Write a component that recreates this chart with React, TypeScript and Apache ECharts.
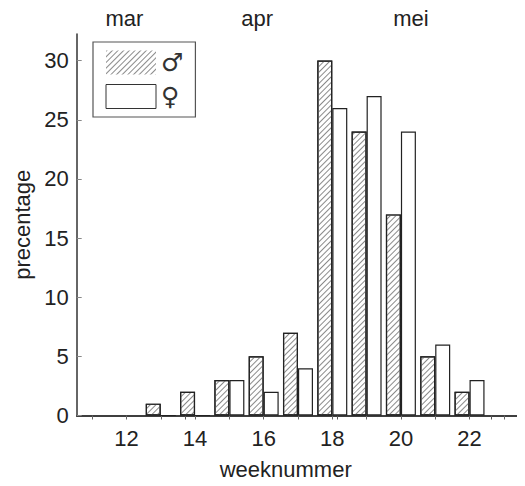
import React, { useEffect, useRef } from "react";
import * as echarts from "echarts";

const weeks = [13, 14, 15, 16, 17, 18, 19, 20, 21, 22];
const maleValues = [1, 2, 3, 5, 7, 30, 24, 17, 5, 2];
const femaleValues = [0, 0, 3, 2, 4, 26, 27, 24, 6, 3];
const xLabelWeeks = [12, 14, 16, 18, 20, 22];
const xTickWeeks = [11, 12, 13, 14, 15, 16, 17, 18, 19, 20, 21, 22, 23];
const yTicks = [0, 5, 10, 15, 20, 25, 30];
const monthNames = ["mar", "apr", "mei"];
const monthLabelPos = [11.94, 15.81, 20.29];
const monthBoundaries = [13.7, 18.15, 22.63];
const seriesNames = ["\u2642", "\u2640"];

const FONT = "'Liberation Sans', Arial, sans-serif";
const FS = 22;
const X_MIN = 10.55;
const X_MAX = 23.55;
const Y_MAX = 32.25;

export default function App() {
  const ref = useRef<HTMLDivElement>(null);
  useEffect(() => {
    if (!ref.current) return;
    const chart = echarts.init(ref.current, null, { renderer: "svg" });
    const axisLine = { show: true, lineStyle: { color: "#333", width: 1.5 } };
    const hatch = {
      symbol: "rect",
      symbolSize: 1,
      dashArrayX: [1, 0],
      dashArrayY: [1, 2.2],
      rotation: -Math.PI / 4,
      color: "#8a8a8a",
    };
    chart.setOption({
      animation: false,
      backgroundColor: "#fff",
      textStyle: { fontFamily: FONT },
      grid: { left: 76.7, right: 2.3, top: 34, bottom: 70.5 },
      legend: {
        left: 93,
        top: 42,
        orient: "vertical",
        padding: [8, 12, 8, 12.5],
        itemWidth: 50,
        itemHeight: 24,
        itemGap: 9,
        borderColor: "#555",
        borderWidth: 1.2,
        icon: "rect",
        textStyle: { fontSize: 25, color: "#333", fontFamily: "'DejaVu Sans'" },
        data: [
          { name: seriesNames[0], itemStyle: { borderWidth: 0 } },
          { name: seriesNames[1], itemStyle: { borderWidth: 1, borderColor: "#333" } },
        ],
      },
      xAxis: [
        {
          type: "value",
          position: "bottom",
          min: X_MIN,
          max: X_MAX,
          name: "weeknummer",
          nameLocation: "middle",
          nameGap: 43,
          nameTextStyle: { fontSize: FS, color: "#222", fontFamily: FONT, padding: [0, 28, 0, 0] },
          axisLine,
          splitLine: { show: false },
          axisTick: {
            show: true,
            inside: false,
            length: 4,
            customValues: xTickWeeks,
            lineStyle: { color: "#666" },
          },
          axisLabel: {
            customValues: xLabelWeeks,
            fontSize: FS,
            color: "#222",
            margin: 11.5,
            fontFamily: FONT,
          },
        },
        {
          type: "value",
          position: "top",
          min: X_MIN,
          max: X_MAX,
          axisLine,
          splitLine: { show: false },
          axisTick: {
            show: true,
            inside: true,
            length: 4,
            customValues: monthBoundaries,
            lineStyle: { color: "#555" },
          },
          axisLabel: {
            customValues: monthLabelPos,
            fontSize: FS,
            color: "#222",
            margin: 5,
            fontFamily: FONT,
            formatter: (v: number) => {
              const i = monthLabelPos.findIndex((p) => Math.abs(p - v) < 0.01);
              return i >= 0 ? monthNames[i] : "";
            },
          },
        },
      ],
      yAxis: [
        {
          type: "value",
          position: "left",
          min: 0,
          max: Y_MAX,
          name: "precentage",
          nameLocation: "middle",
          nameGap: 43,
          nameTextStyle: { fontSize: FS, color: "#222", fontFamily: FONT },
          axisLine,
          splitLine: { show: false },
          axisTick: {
            show: true,
            inside: true,
            length: 5,
            customValues: yTicks,
            lineStyle: { color: "#888" },
          },
          axisLabel: {
            customValues: yTicks,
            fontSize: FS,
            color: "#222",
            margin: 8,
            fontFamily: FONT,
          },
        },
        {
          type: "value",
          position: "right",
          min: 0,
          max: Y_MAX,
          axisLine,
          splitLine: { show: false },
          axisTick: {
            show: true,
            inside: true,
            length: 5,
            customValues: yTicks,
            lineStyle: { color: "#888" },
          },
          axisLabel: { show: false },
        },
      ],
      series: [
        {
          name: seriesNames[0],
          type: "bar",
          xAxisIndex: 0,
          yAxisIndex: 0,
          barWidth: 15,
          barGap: "0%",
          data: weeks.map((w, i) => [w, maleValues[i]]),
          itemStyle: {
            color: "#fff",
            borderColor: "#222",
            borderWidth: 1.2,
            decal: hatch,
          },
        },
        {
          name: seriesNames[1],
          type: "bar",
          xAxisIndex: 0,
          yAxisIndex: 0,
          barWidth: 15,
          barGap: "0%",
          data: weeks.map((w, i) => [w, femaleValues[i]]),
          itemStyle: {
            color: "#fff",
            borderColor: "#222",
            borderWidth: 1.2,
          },
        },
      ],
    });
    return () => chart.dispose();
  }, []);
  return <div ref={ref} style={{ width: 525, height: 486, margin: -8 }} />;
}
